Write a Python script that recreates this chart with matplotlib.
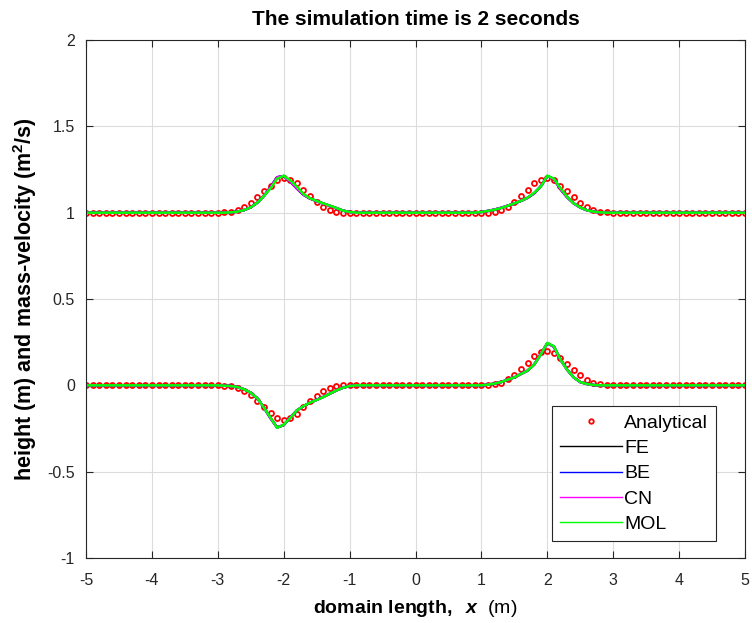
import numpy as np
import matplotlib
matplotlib.use("Agg")
import matplotlib.pyplot as plt
from matplotlib.ticker import FormatStrFormatter

plt.rcParams['font.family'] = ['Liberation Sans', 'DejaVu Sans']
plt.rcParams['axes.unicode_minus'] = False
plt.rcParams['mathtext.fontset'] = 'custom'
plt.rcParams['mathtext.rm'] = 'Liberation Sans'
plt.rcParams['mathtext.bf'] = 'Liberation Sans:bold'
plt.rcParams['mathtext.it'] = 'Liberation Sans:italic'
plt.rcParams['mathtext.bfit'] = 'Liberation Sans:italic:bold'

# grid nodes, dx = 0.1
x = np.linspace(-5, 5, 101)

# --- analytical solution, bumps on [-3,-1] and [1,3] ---
h_ana_l = [1.000, 1.002, 1.005, 1.014, 1.030, 1.058, 1.092, 1.123, 1.157, 1.189, 1.198,
           1.192, 1.169, 1.130, 1.095, 1.061, 1.034, 1.015, 1.005, 1.000, 1.000]
h_ana_r = [1.000, 1.000, 1.005, 1.015, 1.034, 1.061, 1.095, 1.130, 1.169, 1.192, 1.198,
           1.189, 1.157, 1.123, 1.092, 1.058, 1.030, 1.014, 1.005, 1.002, 1.000]
q_ana_l = [0.000, -0.002, -0.005, -0.014, -0.030, -0.058, -0.090, -0.125, -0.160, -0.188, -0.198,
           -0.190, -0.165, -0.128, -0.093, -0.060, -0.034, -0.015, -0.005, 0.000, 0.000]
q_ana_r = [0.000, 0.000, 0.005, 0.015, 0.034, 0.061, 0.095, 0.130, 0.168, 0.192, 0.198,
           0.189, 0.157, 0.123, 0.090, 0.058, 0.030, 0.014, 0.005, 0.002, 0.000]

# --- FE / BE / CN (finite difference) ---
h_fd_l = [1.000, 1.000, 1.002, 1.006, 1.015, 1.031, 1.058, 1.097, 1.148, 1.205, 1.212,
          1.180, 1.140, 1.104, 1.082, 1.067, 1.053, 1.040, 1.026, 1.012, 1.004]
h_fd_r = [1.004, 1.010, 1.018, 1.028, 1.040, 1.054, 1.068, 1.086, 1.112, 1.152, 1.212,
          1.195, 1.136, 1.090, 1.054, 1.030, 1.014, 1.006, 1.002, 1.000, 1.000]
q_fd_l = [0.000, -0.002, -0.004, -0.010, -0.023, -0.043, -0.075, -0.129, -0.190, -0.244, -0.230,
          -0.186, -0.145, -0.120, -0.100, -0.084, -0.067, -0.048, -0.029, -0.014, -0.004]
q_fd_r = [0.000, 0.004, 0.010, 0.019, 0.033, 0.046, 0.066, 0.085, 0.120, 0.180, 0.244,
          0.224, 0.149, 0.091, 0.046, 0.019, 0.008, 0.002, 0.000, 0.000, 0.000]

# --- MOL ---
h_mol_l = [1.000, 1.000, 1.002, 1.006, 1.015, 1.031, 1.058, 1.097, 1.141, 1.197, 1.214,
           1.187, 1.151, 1.108, 1.083, 1.068, 1.054, 1.041, 1.027, 1.012, 1.004]
h_mol_r = [1.004, 1.010, 1.017, 1.027, 1.040, 1.054, 1.068, 1.087, 1.115, 1.150, 1.214,
           1.197, 1.141, 1.093, 1.054, 1.031, 1.014, 1.006, 1.002, 1.000, 1.000]
q_mol_l = [0.000, -0.002, -0.004, -0.010, -0.023, -0.043, -0.075, -0.129, -0.187, -0.246, -0.228,
           -0.188, -0.145, -0.120, -0.100, -0.085, -0.068, -0.048, -0.029, -0.014, -0.004]
q_mol_r = [0.000, 0.004, 0.010, 0.019, 0.033, 0.046, 0.066, 0.085, 0.120, 0.178, 0.246,
           0.226, 0.149, 0.091, 0.046, 0.019, 0.008, 0.002, 0.000, 0.000, 0.000]


def full(left, right, base):
    # undisturbed state outside the two bumps
    return np.array([base] * 20 + left + [base] * 19 + right + [base] * 20)


h_ana, q_ana = full(h_ana_l, h_ana_r, 1.0), full(q_ana_l, q_ana_r, 0.0)
h_fd, q_fd = full(h_fd_l, h_fd_r, 1.0), full(q_fd_l, q_fd_r, 0.0)
h_mol, q_mol = full(h_mol_l, h_mol_r, 1.0), full(q_mol_l, q_mol_r, 0.0)

fig = plt.figure(figsize=(7.52, 6.23), dpi=100)
ax = fig.add_axes([0.1144, 0.1043, 0.8763, 0.8315])

ax.plot(x, h_ana, 'o', color='red', ms=3.6, mfc='none', mew=1.3, label='Analytical')
ax.plot(x, q_ana, 'o', color='red', ms=3.6, mfc='none', mew=1.3)
lw = 1.8
for name, c in [('FE', 'black'), ('BE', 'blue'), ('CN', 'magenta')]:
    ax.plot(x, h_fd, color=c, lw=lw, label=name)
    ax.plot(x, q_fd, color=c, lw=lw)
ax.plot(x, h_mol, color='#00ff00', lw=lw, label='MOL')
ax.plot(x, q_mol, color='#00ff00', lw=lw)

ax.set_xlim(-5, 5)
ax.set_ylim(-1, 2)
ax.set_xticks(np.arange(-5, 6, 1))
ax.set_yticks([-1, -0.5, 0, 0.5, 1, 1.5, 2])
ax.yaxis.set_major_formatter(FormatStrFormatter('%g'))
ax.grid(True, color='#dcdcdc', lw=0.8)
ax.set_axisbelow(True)
for s in ax.spines.values():
    s.set_color('#262626')
    s.set_linewidth(0.8)
ax.tick_params(direction='in', length=5, width=0.8, colors='#262626',
               labelsize=11.5, top=True, right=True)
ax.tick_params(axis='x', pad=11)
ax.tick_params(axis='y', pad=8)

ax.set_title('The simulation time is 2 seconds', fontsize=15, fontweight='bold', pad=11)
ax.set_xlabel(r'$\mathbf{domain\ length,}\ \ \mathbfit{x}\ \ \mathrm{(m)}$', fontsize=14, labelpad=7)
ax.set_ylabel(r'height (m) and mass-velocity (m$^{\mathbf{2}}$/s)', fontsize=15.5,
              fontweight='bold', labelpad=6)

leg = ax.legend(loc='lower right', bbox_to_anchor=(0.956, 0.033), fontsize=14,
                handlelength=3.2, handletextpad=0.1, labelspacing=0.4,
                borderpad=0.4, borderaxespad=0, fancybox=False, framealpha=1,
                edgecolor='#262626', markerscale=0.9)
leg.get_frame().set_linewidth(0.8)
for ln in leg.get_lines():
    ln.set_linewidth(1.0)

fig.savefig('out.png', dpi=100)
